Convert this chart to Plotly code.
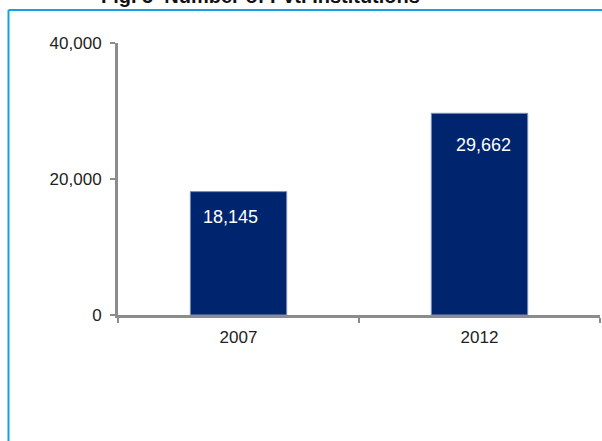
import plotly.graph_objects as go

years = ["2007", "2012"]
institutions = [18145, 29662]
title_text = "Fig. 5  Number of Pvt. Institutions"
y_ticks = [0, 20000, 40000]

bar_color = "#00256f"
font_family = "Liberation Sans, Arial, sans-serif"

fig = go.Figure()
fig.add_trace(go.Bar(
    x=years, y=institutions, width=0.40,
    marker=dict(color=bar_color, line=dict(color="#7f8fb5", width=1)),
    hoverinfo="skip",
))

# label offsets (style only)
label_dx = [-8, 4]
label_dy = [-25, -32]
for i, (yv, dx, dy) in enumerate(zip(institutions, label_dx, label_dy)):
    fig.add_annotation(x=i, y=yv, xref="x", yref="y", text=f"{yv:,}", showarrow=False,
                       xshift=dx, yshift=dy, yanchor="middle",
                       font=dict(family=font_family, size=18, color="white"))

fig.add_annotation(xref="paper", yref="paper", x=(260 - 118) / 482, y=(315 - 9) / 272,
                   text=f"<b>{title_text}</b>", showarrow=False, yanchor="bottom",
                   xanchor="center", font=dict(family=font_family, size=20, color="#111"))

# blue frame (left and top edges)
fig.add_shape(type="line", xref="paper", yref="paper",
              x0=(8.5 - 118) / 482, x1=(8.5 - 118) / 482, y0=(315 - 460) / 272, y1=(315 - 10) / 272,
              line=dict(color="#14a3e0", width=2))
fig.add_shape(type="line", xref="paper", yref="paper",
              x0=(8.5 - 118) / 482, x1=(620 - 118) / 482, y0=(315 - 10) / 272, y1=(315 - 10) / 272,
              line=dict(color="#14a3e0", width=2))

fig.update_layout(
    width=602, height=441,
    margin=dict(l=118, r=2, t=43, b=126),
    paper_bgcolor="white", plot_bgcolor="white",
    showlegend=False,
    bargap=0.6,
    font=dict(family=font_family, size=17, color="#222"),
)
fig.update_xaxes(
    type="category", range=[-0.5, 1.5],
    showline=True, linecolor="#8c8c8c", linewidth=3,
    ticks="outside", tickson="boundaries", ticklen=5, tickcolor="#8c8c8c", tickwidth=2,
    ticklabelstandoff=5, showgrid=False, zeroline=False,
    tickfont=dict(size=17),
)
fig.update_yaxes(
    range=[0, 40000], tickvals=y_ticks, tickformat=",",
    showline=True, linecolor="#8c8c8c", linewidth=3,
    ticks="outside", ticklen=5, tickcolor="#8c8c8c", tickwidth=2,
    ticklabelstandoff=5, showgrid=False, zeroline=False,
    tickfont=dict(size=17),
)

fig.write_html("out.html")
